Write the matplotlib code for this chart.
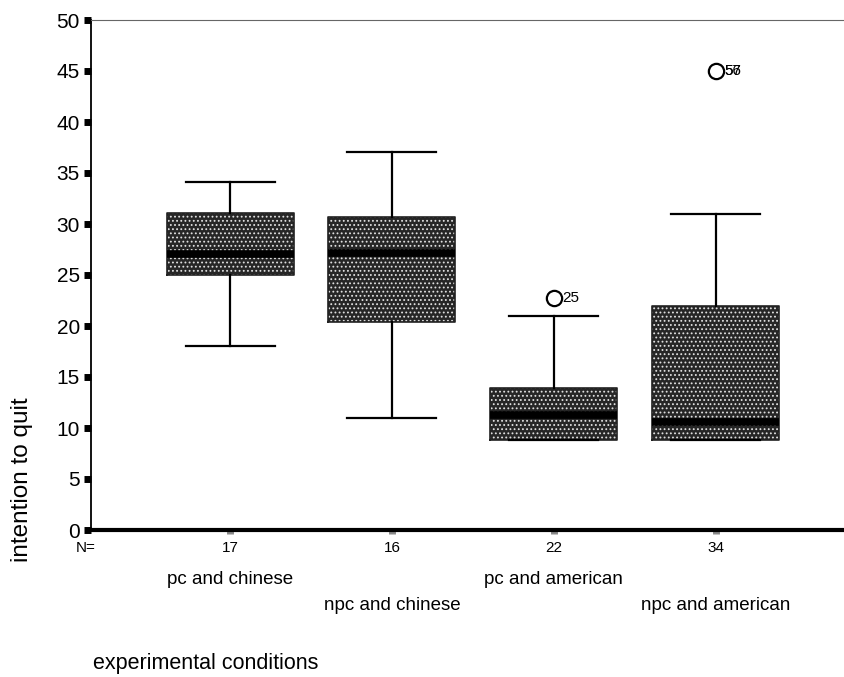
import matplotlib
matplotlib.use("Agg")
import matplotlib.pyplot as plt

# data
groups = ["pc and chinese", "npc and chinese", "pc and american", "npc and american"]
counts = [17, 16, 22, 34]
q1 = [25.0, 20.4, 8.8, 8.8]
med = [27.1, 27.2, 11.3, 10.6]
q3 = [31.1, 30.7, 13.9, 22.0]
whislo = [18.0, 11.0, 8.8, 8.8]
whishi = [34.1, 37.1, 21.0, 31.0]
outliers = [[], [], [22.7], [45.0]]
outlier_ids = [[], [], ["25"], ["56", "57"]]
yticks = [0, 5, 10, 15, 20, 25, 30, 35, 40, 45, 50]

plt.rcParams['font.family'] = ['Liberation Sans', 'DejaVu Sans']
plt.rcParams['hatch.linewidth'] = 0.8

fig = plt.figure(figsize=(8.45, 6.77), dpi=100)
ax = fig.add_axes([91/845, 1 - 530/677, 1 - 91/845, (530 - 20)/677])

stats = []
for i in range(len(groups)):
    stats.append(dict(label=groups[i], q1=q1[i], med=med[i], q3=q3[i],
                      whislo=whislo[i], whishi=whishi[i], fliers=[]))
pos = list(range(1, len(groups) + 1))

# fill with a dotted screen
ax.bxp(stats, positions=pos, widths=0.785, patch_artist=True, showfliers=False,
       showcaps=False, boxprops=dict(facecolor='#262626', edgecolor='#e0e0e0', hatch='....', linewidth=0),
       whiskerprops=dict(linewidth=0), medianprops=dict(linewidth=0))
ax.bxp(stats, positions=pos, widths=0.785, patch_artist=False, showfliers=False,
       boxprops=dict(color='#222222', linewidth=1.2),
       whiskerprops=dict(color='black', linewidth=1.6),
       capprops=dict(color='black', linewidth=1.6),
       capwidths=0.55,
       medianprops=dict(color='black', linewidth=5.5, solid_capstyle='butt'))

for i in range(len(groups)):
    for v in outliers[i]:
        ax.plot(pos[i], v, 'o', ms=11, mfc='white', mec='black', mew=1.6, zorder=5)
        for lab in outlier_ids[i]:
            ax.text(pos[i] + 0.055, v, lab, fontsize=11, va='center', ha='left', zorder=6)

ax.set_xlim(0.14, 4.80)
ax.set_ylim(0, 50)
ax.set_yticks(yticks)
ax.set_yticklabels([str(t) for t in yticks], fontsize=15)
ax.tick_params(axis='y', length=5, width=5, direction='out', pad=3)
ax.set_xticks(pos)
ax.set_xticklabels([])
ax.tick_params(axis='x', length=3, width=5, color='#888888', direction='out')

ax.spines['right'].set_visible(False)
ax.spines['top'].set_color('#666666')
ax.spines['top'].set_linewidth(0.8)
ax.spines['left'].set_linewidth(1.3)
ax.spines['bottom'].set_linewidth(3)

# N counts and group labels
ax.text(0.11, -1.8, "N=", fontsize=11, ha='center', va='center', clip_on=False)
for i in range(len(groups)):
    ax.text(pos[i], -1.8, str(counts[i]), fontsize=11, ha='center', va='center', clip_on=False)
    yl = -4.9 if i % 2 == 0 else -7.4
    ax.text(pos[i], yl, groups[i], fontsize=13.5, ha='center', va='center', clip_on=False)

fig.text(93/845, 1 - 663/677, "experimental conditions", fontsize=15.5, ha='left', va='center')
fig.text(22/845, 1 - 480/677, "intention to quit", fontsize=17.5, rotation=90, ha='center', va='center')

fig.savefig("out.png", dpi=100)
